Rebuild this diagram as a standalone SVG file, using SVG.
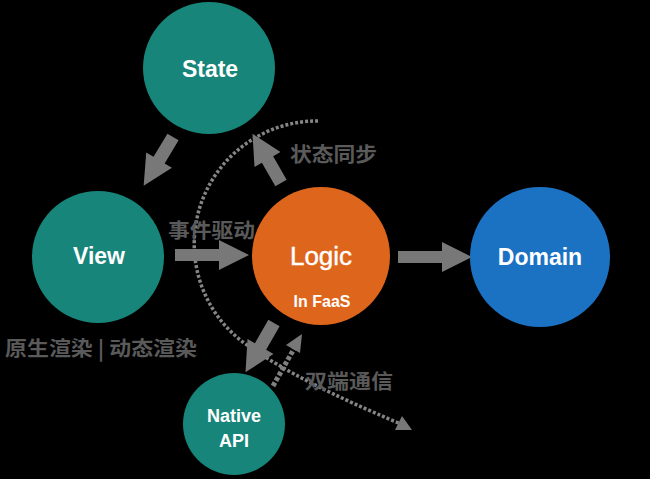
<svg xmlns="http://www.w3.org/2000/svg" width="650" height="479" viewBox="0 0 650 479">
  <defs>
    <style>
      .teal { fill: #17857a; }
      .orange { fill: #de661c; }
      .blue { fill: #1c72c2; }
      .lbl { fill: #ffffff; font-family: "Liberation Sans", Arial, sans-serif; font-weight: bold; text-anchor: middle; }
      .lbl.reg { font-weight: normal; stroke: #ffffff; stroke-width: 0.4; }
      .cn { fill: #5a5a5a; font-family: "Noto Sans CJK SC", "Liberation Sans", sans-serif; font-weight: bold; font-size: 20px; }
      .arr { fill: #787878; }
      .dot { fill: none; stroke: #858585; stroke-width: 3.5; stroke-dasharray: 3 2; }
    </style>
    <polygon id="arrowLong" points="0,-6 44,-6 44,-15 74,0 44,15 44,6 0,6"/>
    <polygon id="arrowShort" points="0,-6.5 27,-6.5 27,-15 57,0 27,15 27,6.5 0,6.5"/>
  </defs>
  <rect x="0" y="0" width="650" height="479" fill="#000000"/>

  <g id="connectors">
    <path class="dot" d="M 318 121 A 123 123 0 0 0 250 347 Q 300 382 401 424"/>
    <polygon class="arr" points="412,430 395,430 402,416"/>
    <use href="#arrowShort" class="arr" transform="translate(173,137) rotate(121)"/>
    <use href="#arrowLong" class="arr" transform="translate(175,255)"/>
    <use href="#arrowLong" class="arr" transform="translate(398,257)"/>
    <use href="#arrowShort" class="arr" transform="translate(281,183) rotate(-120)"/>
    <use href="#arrowShort" class="arr" transform="translate(274,323) rotate(120)"/>
    <line x1="273" y1="386" x2="295" y2="347" stroke="#808080" stroke-width="5" stroke-dasharray="4 2"/>
    <polygon class="arr" points="302,334 300,353 286,345"/>
  </g>

  <g id="state">
    <circle class="teal" cx="209" cy="68" r="66"/>
    <text class="lbl" x="210" y="77" font-size="23">State</text>
  </g>
  <g id="view">
    <circle class="teal" cx="98" cy="257" r="66"/>
    <text class="lbl" x="99" y="264" font-size="23">View</text>
  </g>
  <g id="logic">
    <circle class="orange" cx="321" cy="256" r="69"/>
    <text class="lbl reg" x="321" y="265" font-size="26">Logic</text>
    <text class="lbl" x="322" y="307" font-size="16">In FaaS</text>
  </g>
  <g id="domain">
    <circle class="blue" cx="540" cy="257" r="70"/>
    <text class="lbl" x="540" y="265" font-size="23">Domain</text>
  </g>
  <g id="native">
    <circle class="teal" cx="234" cy="424" r="51"/>
    <text class="lbl" x="234" y="422" font-size="18">Native</text>
    <text class="lbl" x="234" y="447" font-size="18">API</text>
  </g>

  <g id="labels">
    <text class="cn" x="290" y="162" textLength="87" lengthAdjust="spacingAndGlyphs">状态同步</text>
    <text class="cn" x="168" y="238" textLength="87" lengthAdjust="spacingAndGlyphs">事件驱动</text>
    <text class="cn" x="5" y="356" textLength="192" lengthAdjust="spacingAndGlyphs">原生渲染 | 动态渲染</text>
    <text class="cn" x="305" y="389" textLength="88" lengthAdjust="spacingAndGlyphs">双端通信</text>
  </g>
</svg>
